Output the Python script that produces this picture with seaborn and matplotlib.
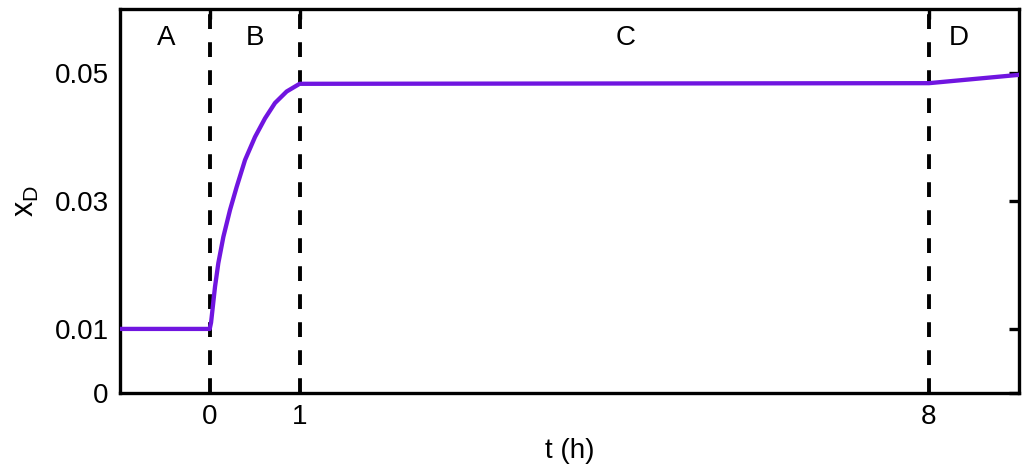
import pandas as pd
import matplotlib
matplotlib.use("Agg")
import matplotlib.pyplot as plt
import seaborn as sns

# values
t_h = [-1.0, 0.0, 0.015, 0.059, 0.096, 0.152, 0.226, 0.30, 0.393, 0.504, 0.615, 0.726, 0.856, 1.0, 8.0, 9.0]
x_d = [0.0100, 0.0100, 0.0110, 0.0166, 0.0203, 0.0244, 0.0286, 0.0322, 0.0364, 0.0400, 0.0429, 0.0453,
       0.0471, 0.0483, 0.0484, 0.0497]

phase_bounds = [0, 1, 8]
phase_names = ["A", "B", "C", "D"]
phase_x = [-0.48, 0.5, 4.63, 8.33]

x_ticks = [0, 1, 8]
y_ticks = [0, 0.01, 0.03, 0.05]
y_ticklabels = ["0", "0.01", "0.03", "0.05"]

df = pd.DataFrame({"t": t_h, "xD": x_d})

sns.set_style("white")
plt.rcParams["font.family"] = ["Liberation Sans", "DejaVu Sans"]
plt.rcParams["mathtext.fontset"] = "custom"
plt.rcParams["mathtext.rm"] = "Liberation Sans"
plt.rcParams["mathtext.it"] = "Liberation Sans"
plt.rcParams["text.color"] = "black"
plt.rcParams["axes.labelcolor"] = "black"
plt.rcParams["xtick.color"] = "black"
plt.rcParams["ytick.color"] = "black"

fig = plt.figure(figsize=(10.24, 4.70), dpi=100)
ax = fig.add_axes([0.117, 0.164, 0.878, 0.817])

for b in phase_bounds:
    ax.axvline(b, color="black", lw=2.8, dashes=(3.8, 3.4), zorder=1)

sns.lineplot(data=df, x="t", y="xD", color="#7015E0", lw=3.1, ax=ax, zorder=3)

for name, px in zip(phase_names, phase_x):
    ax.text(px, 0.0555, name, ha="center", va="center", fontsize=20)

ax.set_xlim(-1, 9)
ax.set_ylim(0, 0.06)
ax.set_xticks(x_ticks)
ax.set_yticks(y_ticks)
ax.set_yticklabels(y_ticklabels)
ax.tick_params(direction="in", length=7, width=2.4, labelsize=20, right=True, top=True, pad=8)
for s in ax.spines.values():
    s.set_linewidth(2.4)
    s.set_color("black")

ax.set_xlabel("t (h)", fontsize=20, labelpad=6)
ax.set_ylabel(r"$\mathregular{x_D}$", fontsize=22, labelpad=10)

fig.savefig("out.png", dpi=100)
